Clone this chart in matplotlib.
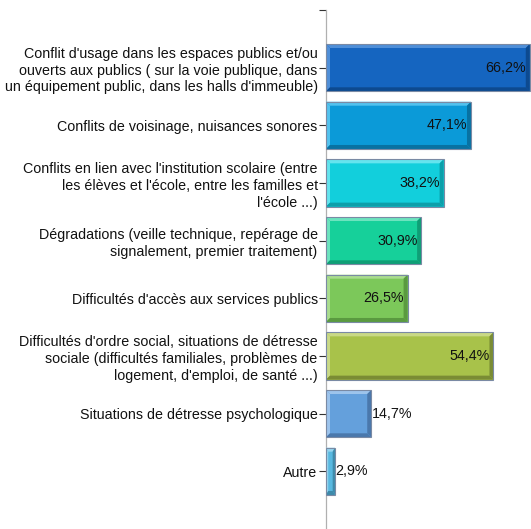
import matplotlib.pyplot as plt
from matplotlib.patches import Polygon, Rectangle

plt.rcParams['font.family'] = ['Liberation Sans', 'DejaVu Sans']

labels = [
    "Conflit d'usage dans les espaces publics et/ou\nouverts aux publics ( sur la voie publique, dans\nun équipement public, dans les halls d'immeuble)",
    "Conflits de voisinage, nuisances sonores",
    "Conflits en lien avec l'institution scolaire (entre\nles élèves et l'école, entre les familles et\nl'école ...)",
    "Dégradations (veille technique, repérage de\nsignalement, premier traitement)",
    "Difficultés d'accès aux services publics",
    "Difficultés d'ordre social, situations de détresse\nsociale (difficultés familiales, problèmes de\nlogement, d'emploi, de santé ...)",
    "Situations de détresse psychologique",
    "Autre",
]
values = [66.2, 47.1, 38.2, 30.9, 26.5, 54.4, 14.7, 2.9]
# (face, light bevel, dark bevel)
colors = [
    ("#1565c0", "#4f8fd8", "#0d4a90"),
    ("#0b9ad8", "#52c2ee", "#0872a2"),
    ("#12cfdc", "#64e4ee", "#0c9faa"),
    ("#16d09a", "#6ce3be", "#0f9f76"),
    ("#7cc85a", "#a9dc8e", "#5a9a40"),
    ("#a8c24a", "#c9d986", "#7a8c34"),
    ("#64a0dc", "#9dc4ec", "#4a78ac"),
    ("#58b8e0", "#96d4ee", "#3e8aaa"),
]

W, H = 531, 529
fig = plt.figure(figsize=(W / 100, H / 100), dpi=100)
ax_left, ax_top = 326, 10
ax = fig.add_axes([ax_left / W, 0, 1 - ax_left / W, 1 - ax_top / H])
xmax = 66.6
ax.set_xlim(0, xmax)
ax.set_ylim(8.0, -1.0)

px_x = xmax / (W - ax_left)
px_y = 9.0 / (H - ax_top)
bx, by = 4 * px_x, 4 * px_y
h = 0.82
fs = 10.3

for i, (v, (face, light, dark)) in enumerate(zip(values, colors)):
    y0, y1 = i - h / 2, i + h / 2
    x0, x1 = 0, v
    b = min(bx, v / 4)
    ax.add_patch(Rectangle((x0, y0), v, h, facecolor=face, edgecolor='none', zorder=2))
    # top bevel
    ax.add_patch(Polygon([(x0, y0), (x1, y0), (x1 - b, y0 + by), (x0 + b, y0 + by)],
                         facecolor=light, edgecolor='none', zorder=3))
    # left bevel
    ax.add_patch(Polygon([(x0, y0), (x0 + b, y0 + by), (x0 + b, y1 - by), (x0, y1)],
                         facecolor=light, edgecolor='none', zorder=3))
    # bottom bevel
    ax.add_patch(Polygon([(x0, y1), (x1, y1), (x1 - b, y1 - by), (x0 + b, y1 - by)],
                         facecolor=dark, edgecolor='none', zorder=3))
    # right bevel
    ax.add_patch(Polygon([(x1, y0), (x1 - b, y0 + by), (x1 - b, y1 - by), (x1, y1)],
                         facecolor=dark, edgecolor='none', zorder=3))
    ax.add_patch(Rectangle((x0, y0), v, h, facecolor='none', edgecolor='#7a8aa4',
                           linewidth=0.8, zorder=4))
    txt = f"{v:.1f}%".replace('.', ',')
    if v > 20:
        ax.text(v - 0.9 * b, i, txt, ha='right', va='center', fontsize=fs,
                color='#111111', zorder=5)
    else:
        ax.text(v + 0.2, i, txt, ha='left', va='center', fontsize=fs,
                color='#111111', zorder=5)

ax.set_yticks([-1] + list(range(len(labels))))
ax.set_yticklabels([''] + labels, fontsize=fs, color='#111111', linespacing=1.25)
for t in ax.get_yticklabels():
    t.set_multialignment('right')
ax.tick_params(axis='y', length=5, width=0.8, color='#333333', pad=1)
ax.set_xticks([])
for s in ['top', 'right', 'bottom']:
    ax.spines[s].set_visible(False)
ax.spines['left'].set_color('#b0b0b0')
ax.spines['left'].set_linewidth(0.9)

fig.savefig('out.png', dpi=100)
